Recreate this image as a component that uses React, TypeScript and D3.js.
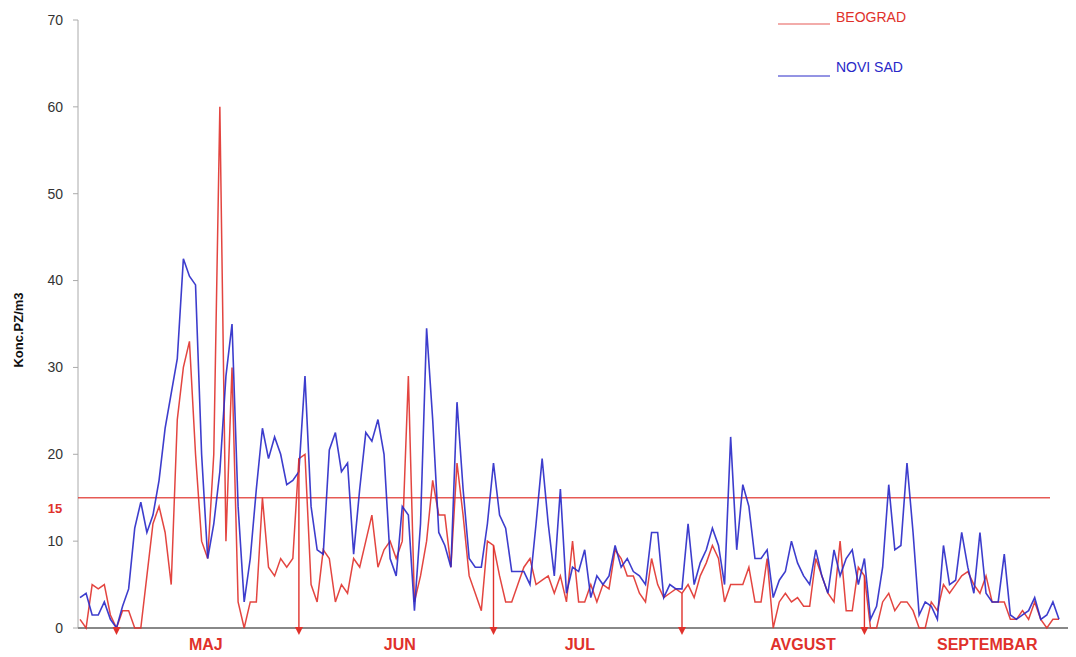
import React from "react";
import * as d3 from "d3";

const beograd: number[] = [
  1, 0, 5, 4.5, 5, 1.5, 0, 2, 2, 0,
  0, 6, 12, 14, 11, 5, 24, 30, 33, 20,
  10, 8, 20, 60, 10, 30, 3, 0, 3, 3,
  15, 7, 6, 8, 7, 8, 19.5, 20, 5, 3,
  9, 8, 3, 5, 4, 8, 7, 10, 13, 7,
  9, 10, 8, 10, 29, 3, 6, 10, 17, 13,
  13, 7, 19, 13, 6, 4, 2, 10, 9.5, 6,
  3, 3, 5, 7, 8, 5, 5.5, 6, 4, 6,
  3, 10, 3, 3, 5, 3, 5, 4.5, 9, 8,
  6, 6, 4, 3, 8, 5, 3.5, 4, 4.5, 4,
  5, 3.5, 6, 7.5, 9.5, 8, 3, 5, 5, 5,
  7, 3, 3, 8, 0, 3, 4, 3, 3.5, 2.5,
  2.5, 8, 6, 4, 3, 10, 2, 2, 7, 6,
  0, 0, 3, 4, 2, 3, 3, 2, 0, 0,
  3, 2, 5, 4, 5, 6, 6.5, 5, 4, 6,
  3, 3, 3, 1, 1, 2, 1, 3, 1, 0,
  1, 1,
];

const noviSad: number[] = [
  3.5, 4, 1.5, 1.5, 3, 1, 0, 2.5, 4.5, 11.5,
  14.5, 11, 13, 17, 23, 27, 31, 42.5, 40.5, 39.5,
  20, 8, 12, 18, 29, 35, 14, 3, 8, 16,
  23, 19.5, 22, 20, 16.5, 17, 18, 29, 14, 9,
  8.5, 20.5, 22.5, 18, 19, 8.5, 16, 22.5, 21.5, 24,
  20, 8, 6, 14, 13, 2, 12, 34.5, 24, 11,
  9.5, 7, 26, 16, 8, 7, 7, 12, 19, 13,
  11.5, 6.5, 6.5, 6.5, 5, 12, 19.5, 12, 6, 16,
  4, 7, 6.5, 9, 3.5, 6, 5, 6, 9.5, 7,
  8, 6.5, 6, 5, 11, 11, 3.5, 5, 4.5, 4.5,
  12, 5, 7.5, 9, 11.5, 9.5, 5, 22, 9, 16.5,
  14, 8, 8, 9, 3.5, 5.5, 6.5, 10, 7.5, 6,
  5, 9, 6, 4, 9, 6, 8, 9, 5, 8,
  1, 2.5, 7, 16.5, 9, 9.5, 19, 11, 1.5, 3,
  2.5, 1, 9.5, 5, 5.5, 11, 7, 4, 11, 4,
  3, 3, 8.5, 1.5, 1, 1.5, 2, 3.5, 1, 1.5,
  3, 1,
];

const yTicks: number[] = [0, 10, 20, 30, 40, 50, 60, 70];
const limitValue = 15;
const monthNames: string[] = ["MAJ", "JUN", "JUL", "AVGUST", "SEPTEMBAR"];
const monthLabelIndex: number[] = [20.7, 52.6, 82.2, 118.9, 149.2];
const monthStartIndex: number[] = [6, 36, 68, 99, 129];

const RED = "#e0312b";
const BLUE = "#2828c8";

export default function App() {
  const width = 1076;
  const height = 657;
  const x = d3.scaleLinear().domain([0, beograd.length - 1]).range([80, 1059]);
  const y = d3.scaleLinear().domain([0, 70]).range([628, 20]);
  const line = d3
    .line<number>()
    .x((_, i) => x(i))
    .y((d) => y(d));

  return (
    <svg
      width={width}
      height={height}
      style={{ position: "absolute", left: 0, top: 0, background: "#fff" }}
      fontFamily="Liberation Sans, Arial, sans-serif"
    >
      {/* y axis */}
      <line x1={78} x2={78} y1={y(70)} y2={y(0)} stroke="#aaa" strokeWidth={1} />
      {yTicks.map((t) => (
        <g key={t}>
          <line x1={73} x2={78} y1={y(t)} y2={y(t)} stroke="#aaa" strokeWidth={1} />
          <text x={63} y={y(t)} dy="0.35em" textAnchor="end" fontSize={14} fill="#333">
            {t}
          </text>
        </g>
      ))}
      <text
        x={55}
        y={y(limitValue) + 15}
        textAnchor="middle"
        fontSize={13}
        fontWeight="bold"
        fill={RED}
      >
        {limitValue}
      </text>
      <text
        transform={`translate(23,${330}) rotate(-90)`}
        textAnchor="middle"
        fontSize={13}
        fontWeight="bold"
        fill="#111"
      >
        Konc.PZ/m3
      </text>

      {/* threshold */}
      <line
        x1={78}
        x2={1050}
        y1={y(limitValue)}
        y2={y(limitValue)}
        stroke={RED}
        strokeOpacity={0.8}
        strokeWidth={1.5}
      />

      {/* baseline */}
      <line x1={78} x2={1068} y1={y(0)} y2={y(0)} stroke="#888" strokeWidth={2} />

      {/* series */}
      <path d={line(beograd) || ""} fill="none" stroke={RED} strokeWidth={1.5} strokeOpacity={0.9} />
      <path d={line(noviSad) || ""} fill="none" stroke={BLUE} strokeWidth={1.6} strokeOpacity={0.9} />

      {/* month arrows */}
      {monthStartIndex.map((mi, k) => {
        const xx = x(mi);
        return (
          <g key={k}>
            <line x1={xx} x2={xx} y1={y(beograd[mi])} y2={y(0) + 2} stroke={RED} strokeWidth={1.4} />
            <path d={`M${xx - 4},${y(0) - 1} L${xx + 4},${y(0) - 1} L${xx},${y(0) + 7} Z`} fill={RED} />
          </g>
        );
      })}

      {/* month labels */}
      {monthNames.map((m, k) => (
        <text
          key={m}
          x={x(monthLabelIndex[k])}
          y={650}
          textAnchor="middle"
          fontSize={16}
          fontWeight="bold"
          fill={RED}
        >
          {m}
        </text>
      ))}

      {/* legend */}
      <line x1={778} x2={830} y1={24} y2={24} stroke={RED} strokeWidth={1} strokeOpacity={0.8} />
      <text x={836} y={22} fontSize={14} fill={RED}>
        BEOGRAD
      </text>
      <line x1={778} x2={830} y1={76} y2={76} stroke={BLUE} strokeWidth={1} />
      <text x={836} y={72} fontSize={14} fill={BLUE}>
        NOVI SAD
      </text>
    </svg>
  );
}
